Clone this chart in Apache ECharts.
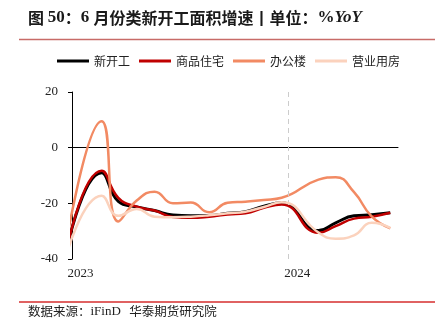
<!DOCTYPE html>
<html>
<head>
<meta charset="utf-8">
<script src="https://cdn.jsdelivr.net/npm/echarts@6/dist/echarts.min.js"></script>
<style>html,body{margin:0;padding:0;background:#fff;}#c{width:435px;height:331px;}</style>
</head>
<body>
<div id="c"></div>
<script>
// Monthly cumulative YoY (%) — dates of observations
const dates = ['2022-12-20','2023-02-20','2023-03-20','2023-04-20','2023-05-20','2023-06-20','2023-07-20','2023-08-20','2023-09-20','2023-10-20','2023-11-20','2023-12-20','2024-02-20','2024-03-20','2024-04-20','2024-05-20','2024-06-20'];
const newStart    = [-39.4, -9.0, -19.3, -21.3, -22.6, -24.2, -24.5, -24.4, -23.6, -23.0, -21.0, -19.8, -29.8, -27.0, -24.5, -24.1, -23.4];
const residential = [-39.8, -8.3, -18.0, -21.2, -22.6, -24.9, -25.2, -24.8, -24.0, -23.6, -21.6, -20.4, -30.6, -28.2, -25.5, -24.8, -23.4];
const office      = [-37.0,  9.5, -26.5, -19.0, -15.8, -20.0, -19.7, -23.2, -19.8, -19.4, -18.8, -18.0, -11.5, -10.6, -16.0, -24.8, -29.0];
const commercial  = [-40.5, -17.3, -24.5, -22.0, -24.8, -25.0, -24.8, -24.3, -23.6, -23.0, -21.3, -19.6, -30.5, -32.7, -31.5, -27.0, -28.8];
const seriesNames = ['新开工','商品住宅','办公楼','营业用房'];
const yearTicks = ['2023','2024'];
const yTicks = [-40, -20, 0, 20];

const DAY = 86400000;
const base = Date.UTC(2023, 0, 1);
function dayOf(s){ const p = s.split('-').map(Number); return Math.round((Date.UTC(p[0], p[1]-1, p[2]) - base) / DAY); }
const xs = dates.map(dayOf);
const yearDays = yearTicks.map(y => dayOf(y + '-01-01'));
function pairs(arr){ return arr.map((v,i)=>[xs[i], v]); }

const colors = ['#000000', '#C00000', '#F28A63', '#FBD2BD'];
const widths = [3, 2.5, 2.5, 2.5];
const vals = [newStart, residential, office, commercial];

const chart = echarts.init(document.getElementById('c'), null, {renderer: 'canvas'});
const series = seriesNames.map((n,i)=>({
  name: n, type: 'line', data: pairs(vals[i]), smooth: 0.5, symbol: 'none',
  lineStyle: {color: colors[i], width: widths[i]}, itemStyle: {color: colors[i]}, z: 2 + i,
  clip: true
}));
series[0].markLine = {
  silent: true, symbol: 'none', label: {show: false},
  lineStyle: {color: '#cccccc', type: [5, 4], width: 1},
  data: [{xAxis: yearDays[1]}]
};

chart.setOption({
  animation: false,
  title: [{
    text: '{h|图 }{n|50}{h|：}{n|6 }{h|月份类新开工面积增速丨单位：}{n|%}{i|YoY}',
    left: 28, top: 9, padding: 0,
    textStyle: {rich: {
      h: {fontFamily: 'Noto Sans CJK SC', fontWeight: 'bold', fontSize: 16, color: '#1a1a1a'},
      n: {fontFamily: 'Liberation Serif', fontWeight: 'bold', fontSize: 17, color: '#1a1a1a'},
      i: {fontFamily: 'Liberation Serif', fontWeight: 'bold', fontStyle: 'italic', fontSize: 17, color: '#1a1a1a'}
    }}
  }, {
    text: '数据来源：{s|iFinD}   华泰期货研究院',
    left: 28, top: 305, padding: 0,
    textStyle: {fontFamily: 'Noto Sans CJK SC', fontWeight: 'normal', fontSize: 12.5, color: '#222',
      rich: {s: {fontFamily: 'Liberation Serif', fontSize: 13, color: '#222'}}}
  }],
  graphic: [
    {type: 'line', shape: {x1: 19, y1: 39.5, x2: 435, y2: 39.5}, style: {stroke: '#C86B68', lineWidth: 1.5}},
    {type: 'line', shape: {x1: 19, y1: 302, x2: 435, y2: 302}, style: {stroke: '#E06262', lineWidth: 2}}
  ],
  legend: {
    data: seriesNames, left: 57, top: 55, padding: 0, icon: 'rect', itemWidth: 32, itemHeight: 3, itemGap: 9,
    textStyle: {fontFamily: 'Noto Sans CJK SC', fontSize: 12, color: '#222'}
  },
  grid: {left: 72, right: 37, top: 92, bottom: 72, containLabel: false},
  xAxis: [{
    type: 'value', min: 0, max: 549, interval: 365,
    axisLine: {show: true, onZero: true, lineStyle: {color: '#000', width: 1}},
    axisTick: {show: true, customValues: [yearDays[1]], length: 3, lineStyle: {color: '#000'}},
    axisLabel: {show: false},
    splitLine: {show: false}
  }, {
    type: 'value', min: 0, max: 549, interval: 365, position: 'bottom',
    axisLine: {show: false, onZero: false}, axisTick: {show: false}, splitLine: {show: false},
    axisLabel: {
      show: true, customValues: yearDays, margin: 8,
      formatter: v => { const k = yearDays.indexOf(v); return k >= 0 ? yearTicks[k] : ''; },
      fontFamily: 'Liberation Serif', fontSize: 13, color: '#222', padding: [0, 0, 0, 17]
    }
  }],
  yAxis: {
    type: 'value', min: yTicks[0], max: yTicks[yTicks.length-1], interval: 20,
    axisLine: {show: true, lineStyle: {color: '#000', width: 1}},
    axisTick: {show: true, length: 4, lineStyle: {color: '#000'}},
    axisLabel: {margin: 14, fontFamily: 'Liberation Serif', fontSize: 13, color: '#222'},
    splitLine: {show: false}
  },
  series: series
});
</script>
</body>
</html>
